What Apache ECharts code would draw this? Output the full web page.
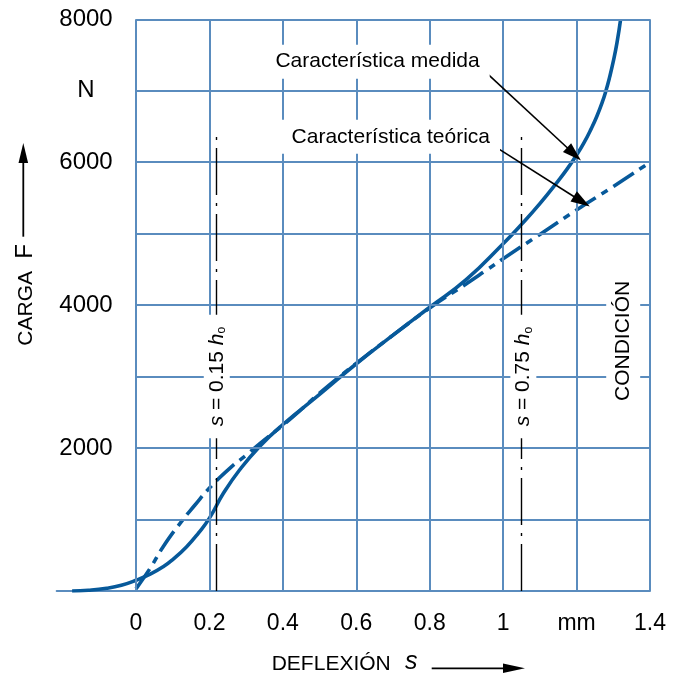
<!DOCTYPE html>
<html>
<head>
<meta charset="utf-8">
<script src="https://cdn.jsdelivr.net/npm/echarts@6/dist/echarts.min.js"></script>
<style>html,body{margin:0;padding:0;background:#fff}#c{width:678px;height:675px}</style>
</head>
<body>
<div id="c"></div>
<script>
// ---- data ----
const xTickValues = [0, 0.2, 0.4, 0.6, 0.8, 1.0, 1.2, 1.4];
const xTickLabels = ['0', '0.2', '0.4', '0.6', '0.8', '1', 'mm', '1.4'];
const yTickValues = [0, 1000, 2000, 3000, 4000, 5000, 6000, 7000, 8000];
const yTickLabels = { 2000: '2000', 4000: '4000', 6000: '6000', 7000: 'N', 8000: '8000' };
const xAxisMin = -0.216;   // the bottom axis runs a little to the left of s = 0

const measuredX = [-0.174, -0.13, -0.08, -0.04, 0, 0.04, 0.074, 0.1, 0.138, 0.17, 0.2, 0.238, 0.283, 0.338, 0.4, 0.5, 0.6, 0.7, 0.8, 0.9, 1.0, 1.05, 1.1, 1.15, 1.175, 1.2, 1.22, 1.24, 1.255, 1.27, 1.28, 1.29, 1.3, 1.31, 1.32];
const measuredY = [0, 10, 38, 80, 150, 240, 340, 440, 620, 810, 1020, 1367, 1700, 2030, 2330, 2750, 3180, 3580, 3970, 4360, 4860, 5130, 5420, 5740, 5910, 6100, 6270, 6470, 6640, 6840, 7000, 7190, 7410, 7670, 8000];

const theoryX = [0, 0.04, 0.074, 0.12, 0.16, 0.2, 0.256, 0.3, 0.338, 0.4, 0.45, 0.5, 0.6, 0.7, 0.8, 0.9, 0.955, 1.0, 1.1, 1.2, 1.3, 1.4];
const theoryY = [30, 330, 620, 947, 1200, 1440, 1720, 1900, 2067, 2320, 2540, 2770, 3186, 3580, 3960, 4300, 4492, 4650, 4990, 5332, 5660, 6000];

const refLinesX = [0.218, 1.048];          // s = 0.15 h0 and s = 0.75 h0
const refLineTop = 6450;
const refLabelAt = [[0.22, 3000], [1.055, 3000]];
const refLabelText = ['{i|s} = 0.15 {i|h}{sub|o}', '{i|s} = 0.75 {i|h}{sub|o}'];

const annMedida = { text: 'Característica medida', at: [0.658, 7407], from: [0.951, 7267], to: [1.193, 6115] };
const annTeorica = { text: 'Característica teórica', at: [0.694, 6357], from: [0.978, 6218], to: [1.214, 5451] };
const condicion = { text: 'CONDICIÓN', at: [1.327, 3500] };

// ---- chart ----
const FONT = "'Liberation Sans', Arial, Helvetica, sans-serif";
const GRID = '#5a8cbe';
const CURVE = '#07599a';
const xMax = xTickValues[xTickValues.length - 1];
const yMax = yTickValues[yTickValues.length - 1];
const GRID_LEFT = 56.7, GRID_RIGHT = 28;
const plotW = 678 - GRID_LEFT - GRID_RIGHT;
const zeroOffset = plotW * (0 - xAxisMin) / (xMax - xAxisMin);   // distance of s = 0 from grid's left edge

const zip = (a, b) => a.map((v, i) => [v, b[i]]);

const chart = echarts.init(document.getElementById('c'));

const gridStyle = { color: GRID, width: 2, type: 'solid' };
const gridLineData = [
  ...xTickValues.map(x => [{ coord: [x, 0], lineStyle: gridStyle }, { coord: [x, yMax] }]),
  ...yTickValues.slice(1).map(y => [{ coord: [0, y], lineStyle: gridStyle }, { coord: [xMax, y] }])
];

const refLineData = refLinesX.map(x => [
  { coord: [x, 0], lineStyle: { color: '#000', width: 1.4, type: [47, 8, 3, 8] } },
  { coord: [x, refLineTop] }
]);

const arrowLine = a => [
  { coord: a.from, symbol: 'none', lineStyle: { color: '#000', width: 1.6, type: 'solid' } },
  { coord: a.to, symbol: 'triangle', symbolSize: [12, 19] }
];

const boxLabel = (text, pad, rotate, rich) => ({
  show: true, position: 'inside', formatter: text, color: '#000',
  fontFamily: FONT, fontSize: 21, lineHeight: 22, backgroundColor: '#fff',
  padding: pad, rotate: rotate || 0, rich: rich
});

const richRef = {
  i: { fontStyle: 'italic', fontFamily: FONT, fontSize: 21, color: '#000', lineHeight: 22 },
  sub: { fontFamily: FONT, fontSize: 12, color: '#000', verticalAlign: 'bottom', lineHeight: 22 }
};

const markPointData = [
  { coord: annMedida.at, label: boxLabel(annMedida.text, [6, 10]) },
  { coord: annTeorica.at, label: boxLabel(annTeorica.text, [6, 10]) },
  { coord: refLabelAt[0], label: boxLabel(refLabelText[0], [2, 12], 90, richRef) },
  { coord: refLabelAt[1], label: boxLabel(refLabelText[1], [2, 12], 90, richRef) },
  { coord: condicion.at, label: boxLabel(condicion.text, [6, 4], 90) }
];

const option = {
  animation: false,
  backgroundColor: '#fff',
  grid: { left: GRID_LEFT, right: GRID_RIGHT, top: 19.3, bottom: 84, containLabel: false, outerBoundsMode: 'none' },
  xAxis: {
    type: 'value', min: xAxisMin, max: xMax,
    axisLine: { show: true, onZero: false, lineStyle: { color: GRID, width: 2 } },
    axisTick: { show: false },
    splitLine: { show: false },
    axisLabel: {
      margin: 21, fontSize: 23, fontFamily: FONT, color: '#000',
      customValues: xTickValues,
      formatter: v => {
        const i = xTickValues.findIndex(t => Math.abs(t - v) < 1e-6);
        return i >= 0 ? xTickLabels[i] : '';
      }
    }
  },
  yAxis: {
    type: 'value', min: 0, max: yMax, interval: 1000,
    offset: -zeroOffset,
    axisLine: { show: false, onZero: false },
    axisTick: { show: false },
    splitLine: { show: false },
    axisLabel: {
      margin: 50, align: 'center', fontSize: 24, fontFamily: FONT, color: '#000',
      formatter: v => yTickLabels[v] || ''
    }
  },
  series: [
    {
      name: 'grid', type: 'line', data: [], z: 1, silent: true,
      markLine: {
        silent: true, animation: false, symbol: 'none',
        label: { show: false }, emphasis: { disabled: true },
        data: [...gridLineData, ...refLineData]
      }
    },
    {
      name: 'teorica', type: 'line', data: zip(theoryX, theoryY),
      showSymbol: false, symbol: 'none', smooth: 0.5, z: 3, silent: true,
      lineStyle: { color: CURVE, width: 3.6, type: [24, 7, 7, 7] }
    },
    {
      name: 'medida', type: 'line', data: zip(measuredX, measuredY),
      showSymbol: false, symbol: 'none', smooth: 0.5, z: 4, silent: true,
      lineStyle: { color: CURVE, width: 3.6 },
      markLine: {
        silent: true, animation: false, symbol: 'none',
        label: { show: false }, emphasis: { disabled: true },
        data: [arrowLine(annMedida), arrowLine(annTeorica)]
      },
      markPoint: {
        silent: true, animation: false, symbol: 'circle', symbolSize: 0,
        itemStyle: { color: 'rgba(0,0,0,0)' },
        data: markPointData
      }
    }
  ],
  graphic: [
    { type: 'text', x: 271.7, y: 664, style: { text: 'DEFLEXIÓN', font: "21px " + FONT, fill: '#000', textAlign: 'left', textVerticalAlign: 'middle' } },
    { type: 'text', x: 405, y: 662, style: { text: 's', font: "italic 25px " + FONT, fill: '#000', textAlign: 'left', textVerticalAlign: 'middle' } },
    { type: 'line', shape: { x1: 431.7, y1: 668.3, x2: 506, y2: 668.3 }, style: { stroke: '#000', lineWidth: 1.8 } },
    { type: 'polygon', shape: { points: [[503, 663.5], [525, 668.3], [503, 673.1]] }, style: { fill: '#000' } },
    { type: 'text', x: 26, y: 308.3, rotation: Math.PI / 2, style: { text: 'CARGA', font: "21px " + FONT, fill: '#000', textAlign: 'center', textVerticalAlign: 'middle' } },
    { type: 'text', x: 25, y: 251.5, rotation: Math.PI / 2, style: { text: 'F', font: "24px " + FONT, fill: '#000', textAlign: 'center', textVerticalAlign: 'middle' } },
    { type: 'line', shape: { x1: 23.3, y1: 236.7, x2: 23.3, y2: 160 }, style: { stroke: '#000', lineWidth: 1.8 } },
    { type: 'polygon', shape: { points: [[18.5, 163], [23.3, 143], [28.1, 163]] }, style: { fill: '#000' } }
  ]
};

chart.setOption(option);
</script>
</body>
</html>
